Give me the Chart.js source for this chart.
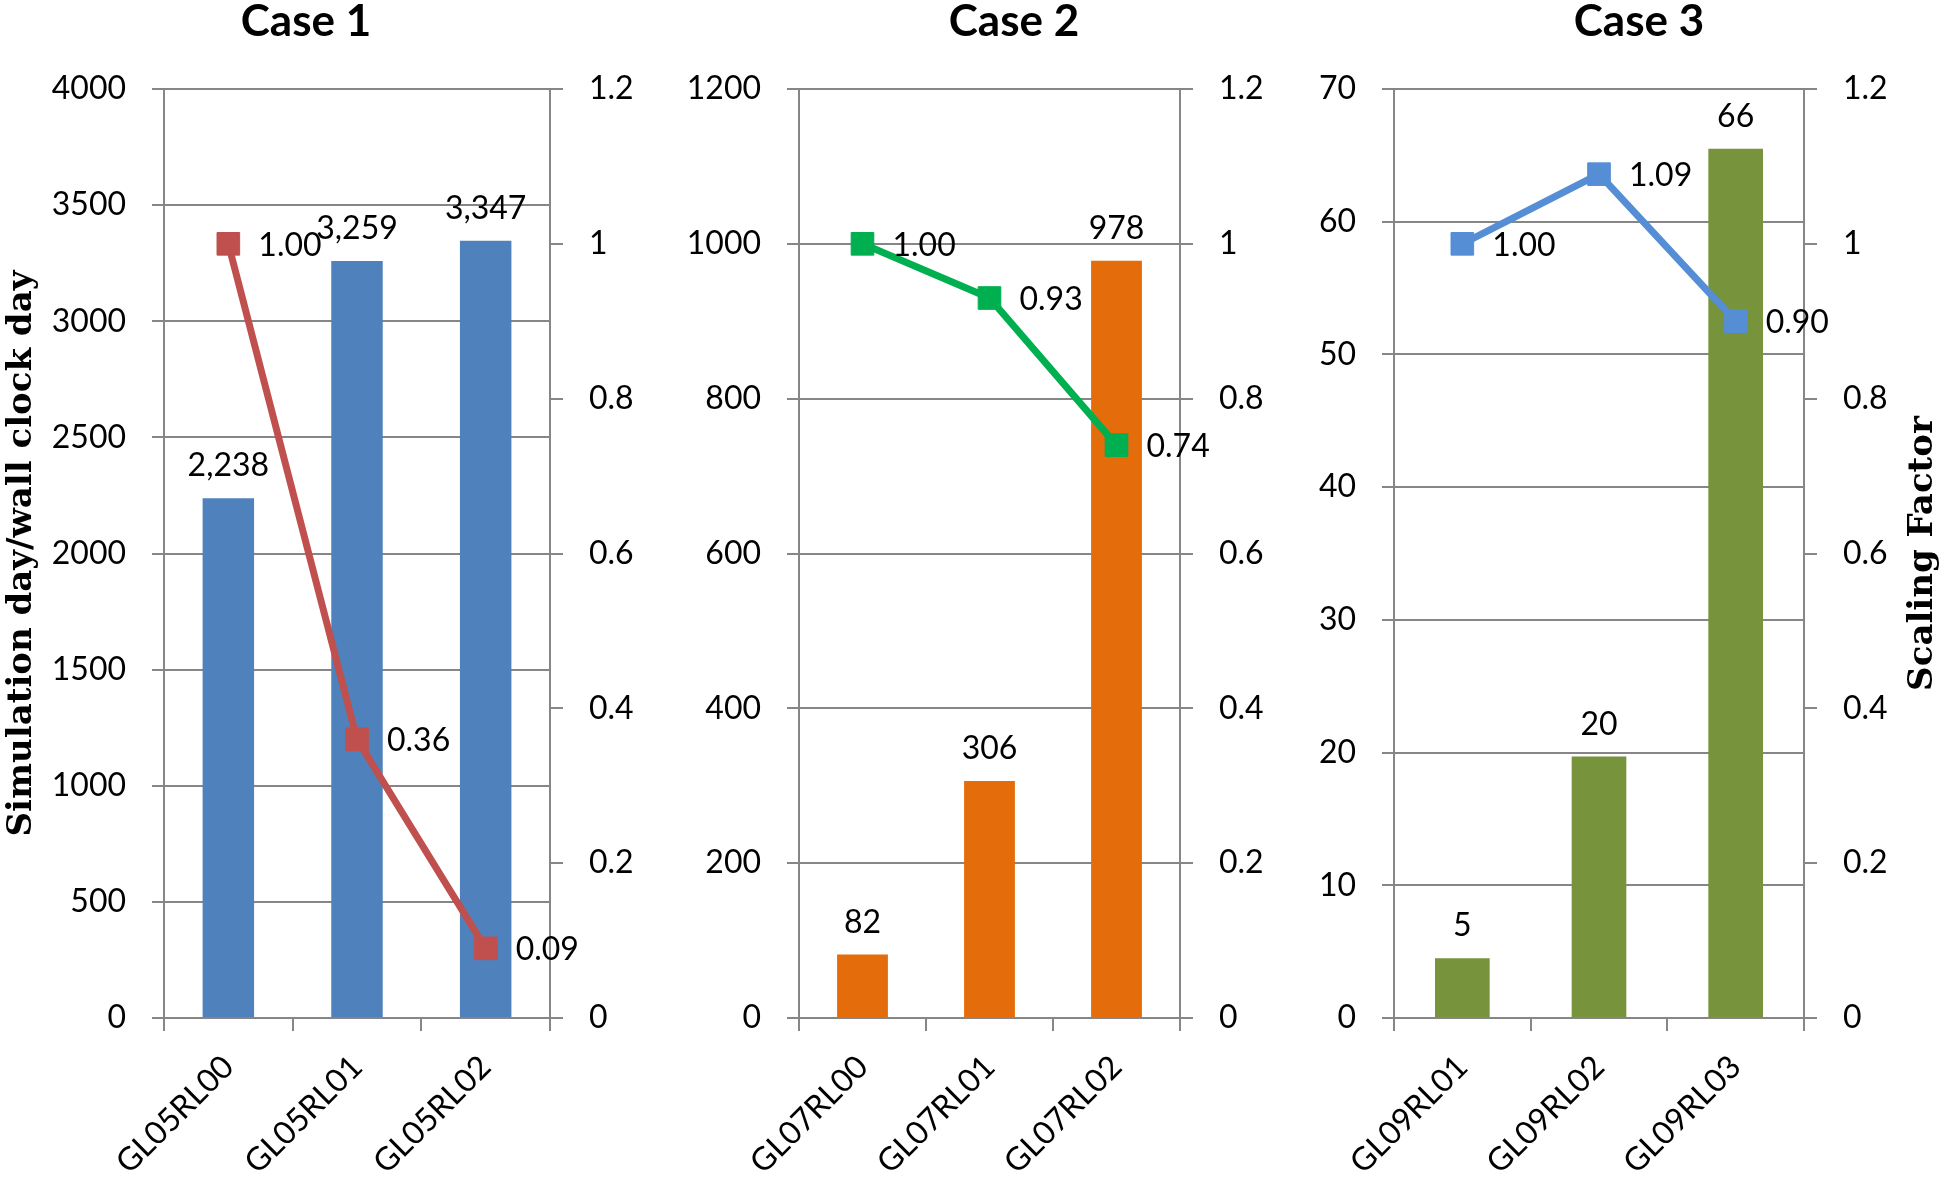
<!DOCTYPE html>
<html>
<head>
<meta charset="utf-8">
<script src="https://cdn.jsdelivr.net/npm/chart.js@4/dist/chart.umd.min.js"></script>
<style>
  html, body { margin: 0; padding: 0; background: #fff; }
  #wrap { position: relative; width: 1946px; height: 1180px; overflow: hidden; }
  canvas { position: absolute; top: 0; }
</style>
</head>
<body>
<div id="wrap">
  <canvas id="case1" width="660" height="1180" style="left:0px"></canvas>
  <canvas id="case2" width="620" height="1180" style="left:660px"></canvas>
  <canvas id="case3" width="666" height="1180" style="left:1280px"></canvas>
</div>
<script>
// values
const case1Labels  = ['GL05RL00', 'GL05RL01', 'GL05RL02']
const case1Speed   = [2238, 3259, 3347]
const case1Scaling = [1.00, 0.36, 0.09]
const case1Ticks   = ['0', '500', '1000', '1500', '2000', '2500', '3000', '3500', '4000']

const case2Labels  = ['GL07RL00', 'GL07RL01', 'GL07RL02']
const case2Speed   = [82, 306, 978]
const case2Scaling = [1.00, 0.93, 0.74]
const case2Ticks   = ['0', '200', '400', '600', '800', '1000', '1200']

const case3Labels  = ['GL09RL01', 'GL09RL02', 'GL09RL03']
const case3Speed   = [4.5, 19.7, 65.5]
const case3Scaling = [1.00, 1.09, 0.90]
const case3Ticks   = ['0', '10', '20', '30', '40', '50', '60', '70']

const scalingTicks = ['0', '0.2', '0.4', '0.6', '0.8', '1', '1.2']

const GRID = '#868686'
const SANS = 'Lato'
const SERIF = '"DejaVu Serif"'

// panel title, value labels and the right-hand axis title
const annotate = {
  id: 'annotate',
  afterDatasetsDraw(chart, args, o) {
    const ctx = chart.ctx
    ctx.save()
    ctx.fillStyle = '#000'

    ctx.font = `bold 44px ${SANS}`
    ctx.textAlign = 'center'
    ctx.textBaseline = 'alphabetic'
    ctx.fillText(o.title, o.titleX, 36)

    ctx.font = `32px ${SANS}`
    chart.getDatasetMeta(1).data.forEach((b, i) => {
      const v = o.speed[i].toLocaleString('en-US', { maximumFractionDigits: 0 })
      ctx.fillText(v, b.x, b.y - 22)
    })
    ctx.textAlign = 'left'
    chart.getDatasetMeta(0).data.forEach((p, i) => {
      ctx.fillText(o.scaling[i].toFixed(2), p.x + 30, p.y + 12)
    })

    if (o.sideTitle) {
      ctx.font = `bold 34px ${SERIF}`
      ctx.textAlign = 'center'
      ctx.textBaseline = 'middle'
      ctx.translate(o.sideX, (chart.chartArea.top + chart.chartArea.bottom) / 2)
      ctx.rotate(-Math.PI / 2)
      ctx.fillText(o.sideTitle, 0, 0)
    }
    ctx.restore()
  }
}

function panel(id, p) {
  const tickFont = { family: SANS, size: 32 }
  return new Chart(document.getElementById(id), {
    type: 'bar',
    data: {
      labels: p.labels,
      datasets: [
        { type: 'line', data: p.scaling, yAxisID: 'y1', order: 0,
          borderColor: p.lineColor, backgroundColor: p.lineColor, borderWidth: 7,
          pointStyle: 'rect', pointRadius: 16, pointHoverRadius: 16, pointBorderWidth: 1 },
        { data: p.speed, yAxisID: 'y', order: 1, backgroundColor: p.barColor,
          categoryPercentage: 1, barPercentage: 0.4 },
      ],
    },
    options: {
      responsive: false, animation: false,
      layout: { padding: { top: 89, left: 0, right: 0, bottom: 0 } },
      plugins: {
        legend: { display: false }, tooltip: { enabled: false },
        annotate: { title: p.title, titleX: p.titleX, speed: p.speed, scaling: p.scaling,
                    sideTitle: p.sideTitle, sideX: p.sideX },
      },
      scales: {
        x: {
          grid: { drawOnChartArea: false, color: GRID, lineWidth: 2, tickLength: 13 },
          border: { color: GRID, width: 2 },
          ticks: { color: '#000', font: tickFont, minRotation: 45, maxRotation: 45, padding: 17 },
          afterFit: s => { s.height = 162 },
        },
        y: {
          position: 'left', min: 0, max: p.max, ticks: { stepSize: p.step, color: '#000', font: tickFont,
            padding: 26, callback: (v, i) => p.ticks[i] },
          grid: { color: GRID, lineWidth: 2, tickLength: 12 },
          border: { color: GRID, width: 2 },
          title: { display: !!p.yTitle, text: p.yTitle, color: '#000',
                   font: { family: SERIF, size: 34, weight: 'bold' }, padding: { top: 2, bottom: 0 } },
          afterFit: s => { s.width = p.leftW },
        },
        y1: {
          position: 'right', min: 0, max: 1.2, ticks: { stepSize: 0.2, color: '#000', font: tickFont,
            padding: 26, callback: (v, i) => scalingTicks[i] },
          grid: { drawOnChartArea: false, color: GRID, lineWidth: 2, tickLength: 13 },
          border: { color: GRID, width: 2 },
          afterFit: s => { s.width = p.rightW },
        },
      },
    },
    plugins: [annotate],
  })
}

panel('case1', {
  title: 'Case 1', titleX: 306, labels: case1Labels, speed: case1Speed, scaling: case1Scaling,
  ticks: case1Ticks, max: 4000, step: 500, barColor: '#4F81BD', lineColor: '#C0504D',
  leftW: 164, rightW: 110, yTitle: 'Simulation day/wall clock day',
})
panel('case2', {
  title: 'Case 2', titleX: 1014 - 660, labels: case2Labels, speed: case2Speed, scaling: case2Scaling,
  ticks: case2Ticks, max: 1200, step: 200, barColor: '#E46C0A', lineColor: '#00B050',
  leftW: 139, rightW: 100,
})
panel('case3', {
  title: 'Case 3', titleX: 1639 - 1280, labels: case3Labels, speed: case3Speed, scaling: case3Scaling,
  ticks: case3Ticks, max: 70, step: 10, barColor: '#77933C', lineColor: '#558ED5',
  leftW: 114, rightW: 142, sideTitle: 'Scaling Factor', sideX: 1923 - 1280,
})
</script>
</body>
</html>
